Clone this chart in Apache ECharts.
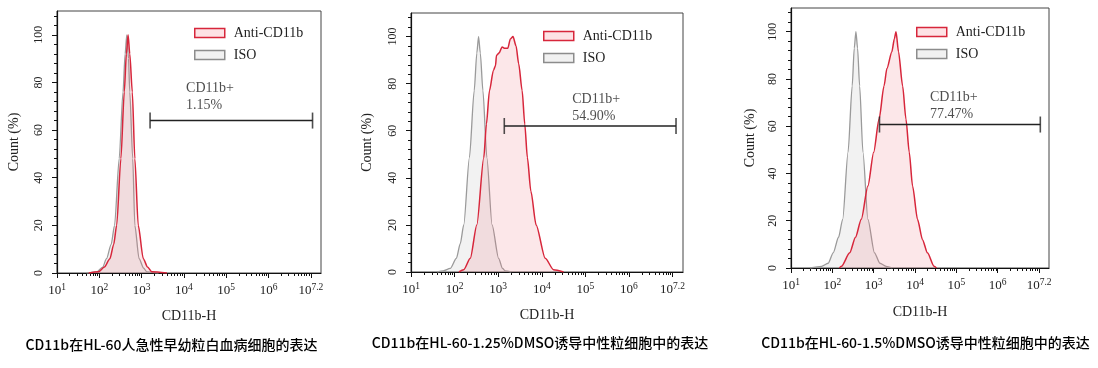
<!DOCTYPE html>
<html><head><meta charset="utf-8">
<script src="https://cdn.jsdelivr.net/npm/echarts@6/dist/echarts.min.js"></script>
<style>html,body{margin:0;padding:0;background:#fff}#c{width:1098px;height:368px}</style>
</head><body><div id="c"></div>
<script>
// ---------- data (x in decades: log10 of CD11b-H; y = Count %) ----------
const xTickVals = [1, 2, 3, 4, 5, 6, 7];
const xExpLabels = ['1', '2', '3', '4', '5', '6', '7.2'];
const yTickVals = [0, 20, 40, 60, 80, 100];
const yMinorVals = [4, 8, 12, 16, 24, 28, 32, 36, 44, 48, 52, 56, 64, 68, 72, 76, 84, 88, 92, 96, 104, 108];
const seriesNames = ['Anti-CD11b', 'ISO'];
const captions = ['CD11b在HL-60人急性早幼粒白血病细胞的表达',
                  'CD11b在HL-60-1.25%DMSO诱导中性粒细胞中的表达',
                  'CD11b在HL-60-1.5%DMSO诱导中性粒细胞中的表达'];
const gateTitle = 'CD11b+';
const gatePercents = ['1.15%', '54.90%', '77.47%'];

// Panel 1
const iso1X  = [1.70, 1.94, 2.08, 2.17, 2.28, 2.36, 2.47, 2.56, 2.61, 2.65, 2.69, 2.72, 2.79, 2.84, 2.94, 3.05, 3.12, 3.40];
const iso1Y  = [0, 0.5, 2.5, 6, 12, 20, 48, 76, 92, 100, 90, 76, 48, 20, 6, 2, 0.5, 0];
const anti1X = [1.75, 1.98, 2.12, 2.25, 2.34, 2.41, 2.51, 2.59, 2.64, 2.68, 2.72, 2.78, 2.84, 2.92, 3.04, 3.14, 3.24, 3.60];
const anti1Y = [0, 0.5, 2.5, 6, 12, 20, 48, 76, 92, 100, 92, 76, 48, 20, 6, 2.5, 0.5, 0];
// Panel 2
const iso2X  = [1.60, 1.74, 1.90, 2.04, 2.13, 2.21, 2.34, 2.45, 2.51, 2.55, 2.59, 2.65, 2.74, 2.86, 3.01, 3.10, 3.16, 3.30];
const iso2Y  = [0, 0.5, 1.5, 5.8, 12, 20, 48.6, 77, 93, 100, 93, 77, 48.6, 20, 5.8, 1.5, 0.5, 0];
const anti2X = [2.10, 2.21, 2.36, 2.51, 2.67, 2.73, 2.80, 2.89, 2.94, 2.96, 3.02, 3.09, 3.15, 3.22, 3.28, 3.34, 3.41, 3.47, 3.55, 3.61, 3.67, 3.75, 3.87, 4.08, 4.27, 4.50];
const anti2Y = [0, 1, 5.8, 20, 48.6, 62.8, 77, 85.6, 87.7, 92, 93, 95.6, 95, 95, 99, 100, 96, 88.5, 77, 62.8, 48.6, 34.3, 20, 5.8, 1, 0];
// Panel 3
const iso3X  = [1.46, 1.74, 1.90, 2.02, 2.15, 2.25, 2.38, 2.48, 2.53, 2.57, 2.61, 2.66, 2.74, 2.86, 3.02, 3.15, 3.30, 3.45];
const iso3Y  = [0, 0.7, 2, 6.4, 13, 20.6, 49, 77, 93, 100, 93, 77, 49, 20.6, 6.4, 2, 0.7, 0];
const anti3X = [2.17, 2.22, 2.42, 2.56, 2.70, 2.86, 3.00, 3.13, 3.25, 3.32, 3.44, 3.50, 3.54, 3.60, 3.70, 3.78, 3.86, 3.94, 4.06, 4.18, 4.30, 4.46, 4.52];
const anti3Y = [0, 0.7, 6.4, 13, 20.6, 34.7, 49, 63, 77, 84.4, 91.5, 97, 100, 91.5, 77, 63, 49, 34.7, 20.6, 12, 6.4, 0.7, 0];

// gates: [start, end] in decades, and level in Count %
const gateRanges = [[3.20, 7.04], [3.14, 7.08], [3.14, 7.03]];
const gateLevels = [64, 62, 60.7];
const gateLabelAnchors = [[4.05, 74], [4.70, 69.9], [4.36, 68.6]];

// ---------- layout / style ----------
const grids = [
  {left: 57, top: 11, width: 264, height: 262},
  {left: 411, top: 13, width: 272, height: 259},
  {left: 791, top: 8, width: 258, height: 260}
];
const legendPos = [{left: 194, top: 25}, {left: 543, top: 28}, {left: 916, top: 24}];
const captionPos = [[171.5, 345], [540, 343], [925.5, 343]];
const xNameGaps = [36, 36, 37];
const yNameGaps = [36, 37, 34];

const SERIF = 'Liberation Serif';
const TXT = '#222';
const RED = '#d7263b', RED_FILL = 'rgba(238,110,125,0.24)';
const GRAY = '#9a9a9a', GRAY_FILL = 'rgba(165,165,165,0.20)';

const curves = [
  [iso1X, iso1Y, anti1X, anti1Y],
  [iso2X, iso2Y, anti2X, anti2Y],
  [iso3X, iso3Y, anti3X, anti3Y]
];
const zip = (xs, ys) => xs.map((x, i) => [x, ys[i]]);

const xMinorVals = [];
for (let d = 1; d <= 6; d++) for (let k = 2; k <= 9; k++) xMinorVals.push(d + Math.log10(k));

const xAxes = [], yAxes = [], series = [], legends = [], graphics = [];
grids.forEach((g, i) => {
  xAxes.push({
    type: 'value', gridIndex: i, min: 1, max: 7.24, position: 'bottom',
    name: 'CD11b-H', nameLocation: 'middle', nameGap: xNameGaps[i],
    nameTextStyle: {fontFamily: SERIF, fontSize: 14, color: TXT},
    axisLine: {show: true, lineStyle: {color: '#111', width: 1.2}},
    axisTick: {show: true, customValues: xTickVals, length: 5, lineStyle: {color: '#111'}},
    axisLabel: {
      customValues: xTickVals, margin: 9,
      formatter: v => '{b|10}{s|' + xExpLabels[xTickVals.indexOf(v)] + '}',
      rich: {
        b: {fontFamily: SERIF, fontSize: 13, color: TXT, lineHeight: 18},
        s: {fontFamily: SERIF, fontSize: 9.5, color: TXT, verticalAlign: 'top'}
      }
    },
    splitLine: {show: false}
  });
  xAxes.push({
    type: 'value', gridIndex: i, min: 1, max: 7.24, position: 'bottom',
    axisLine: {show: false},
    axisTick: {show: true, customValues: xMinorVals, length: 3, lineStyle: {color: '#111'}},
    axisLabel: {show: false}, splitLine: {show: false}
  });
  yAxes.push({
    type: 'value', gridIndex: i, min: 0, max: 110, position: 'left',
    name: 'Count (%)', nameLocation: 'middle', nameGap: yNameGaps[i],
    nameTextStyle: {fontFamily: SERIF, fontSize: 14, color: TXT},
    axisLine: {show: true, lineStyle: {color: '#111', width: 1.2}},
    axisTick: {show: true, customValues: yTickVals, length: 5, lineStyle: {color: '#111'}},
    axisLabel: {customValues: yTickVals, rotate: 90, margin: 12,
                fontFamily: SERIF, fontSize: 12, color: TXT},
    splitLine: {show: false}
  });
  yAxes.push({
    type: 'value', gridIndex: i, min: 0, max: 110, position: 'left',
    axisLine: {show: false},
    axisTick: {show: true, customValues: yMinorVals, length: 3, lineStyle: {color: '#111'}},
    axisLabel: {show: false}, splitLine: {show: false}
  });

  const [ix, iy, ax, ay] = curves[i];
  series.push({
    name: 'ISO', type: 'line', xAxisIndex: 2 * i, yAxisIndex: 2 * i,
    data: zip(ix, iy), symbol: 'none', smooth: 0.25, smoothMonotone: 'x',
    lineStyle: {color: GRAY, width: 1.3}, itemStyle: {color: GRAY},
    areaStyle: {color: GRAY_FILL}, z: 2
  });
  series.push({
    name: 'Anti-CD11b', type: 'line', xAxisIndex: 2 * i, yAxisIndex: 2 * i,
    data: zip(ax, ay), symbol: 'none', smooth: 0.25, smoothMonotone: 'x',
    lineStyle: {color: RED, width: 1.5}, itemStyle: {color: RED},
    areaStyle: {color: RED_FILL}, z: 3
  });
  const gpts = gateRanges[i].map(x => [x, gateLevels[i]]);
  series.push({
    type: 'line', xAxisIndex: 2 * i, yAxisIndex: 2 * i, data: gpts,
    symbol: 'none', lineStyle: {color: '#222', width: 1.4}, silent: true, z: 5
  });
  series.push({
    type: 'scatter', xAxisIndex: 2 * i, yAxisIndex: 2 * i, data: gpts,
    symbol: 'rect', symbolSize: [1.6, 16], itemStyle: {color: '#222'}, silent: true, z: 5
  });
  series.push({
    type: 'scatter', xAxisIndex: 2 * i, yAxisIndex: 2 * i, data: [gateLabelAnchors[i]],
    symbolSize: 0, silent: true, z: 6,
    label: {show: true, position: 'right', distance: 0,
            formatter: gateTitle + '\n' + gatePercents[i],
            fontFamily: SERIF, fontSize: 14, lineHeight: 17, color: TXT}
  });

  legends.push({
    left: legendPos[i].left, top: legendPos[i].top, orient: 'vertical',
    selectedMode: false, itemWidth: 30, itemHeight: 9, itemGap: 6, padding: 0,
    textStyle: {fontFamily: SERIF, fontSize: 14, color: TXT, lineHeight: 16, padding: [0, 0, 0, 4]},
    data: [
      {name: seriesNames[0], icon: 'rect', itemStyle: {color: '#fde2e5', borderColor: RED, borderWidth: 1.5}},
      {name: seriesNames[1], icon: 'rect', itemStyle: {color: '#f1f1f1', borderColor: '#8c8c8c', borderWidth: 1.5}}
    ]
  });

  graphics.push({
    type: 'text', x: captionPos[i][0], y: captionPos[i][1],
    style: {text: captions[i], fill: '#000', font: '500 14px "Noto Sans CJK SC"',
            textAlign: 'center', textVerticalAlign: 'middle'}
  });
});

const chart = echarts.init(document.getElementById('c'), null, {renderer: 'canvas'});
chart.setOption({
  backgroundColor: '#fff',
  animation: false,
  grid: grids.map(g => Object.assign({show: true, borderColor: '#444', borderWidth: 1,
                                      backgroundColor: 'transparent', containLabel: false}, g)),
  xAxis: xAxes, yAxis: yAxes,
  legend: legends,
  series: series,
  graphic: graphics
});
</script></body></html>
